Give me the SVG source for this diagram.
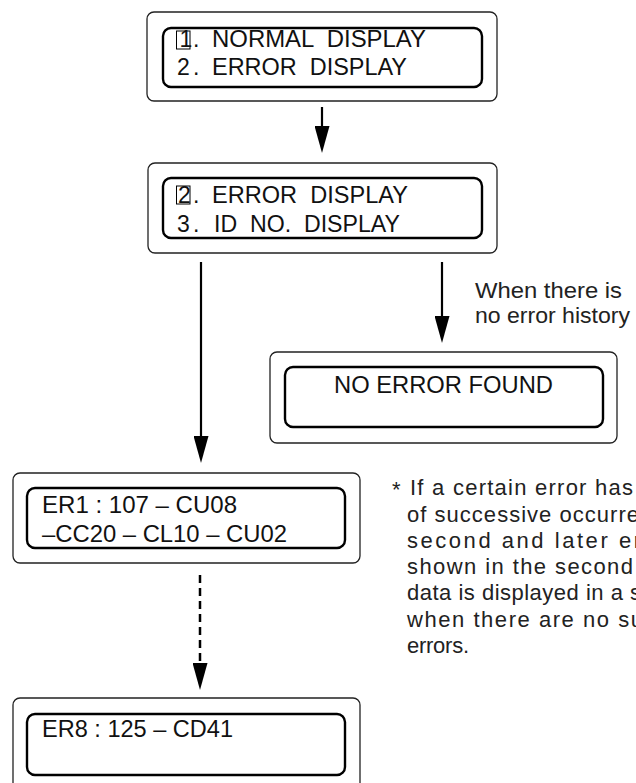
<svg xmlns="http://www.w3.org/2000/svg" width="636" height="783" viewBox="0 0 636 783">
<style>
.outer{fill:#fff;stroke:#222;stroke-width:1.3}
.inner{fill:none;stroke:#000;stroke-width:2.4}
.t{font-family:"Liberation Sans",Arial,sans-serif;font-size:23px;fill:#111}
.n{font-family:"Liberation Sans",Arial,sans-serif;font-size:22px;fill:#222}
.cur{fill:none;stroke:#000;stroke-width:1}
.sh{stroke:#000;stroke-width:2.2;fill:none}
.dash{stroke-dasharray:8 5;stroke-width:2.5}
.pre{white-space:pre}
</style>
<defs>
<marker id="ah" markerUnits="userSpaceOnUse" viewBox="0 0 27 15" markerWidth="27" markerHeight="15" refX="19" refY="7.5" orient="auto">
<path d="M0,0 L27,7.5 L0,15 Z" fill="#000"/>
</marker>
</defs>
<rect width="636" height="783" fill="#fff"/>

<g id="menu1">
<rect class="outer" x="147" y="12" width="350" height="89" rx="7"/>
<rect class="inner" x="163" y="28" width="319" height="59" rx="8"/>
<rect class="cur" x="176.5" y="31" width="13.5" height="18"/>
<text class="t pre" y="47"><tspan x="179.5">1</tspan><tspan x="193">. </tspan><tspan x="212" textLength="214" lengthAdjust="spacingAndGlyphs">NORMAL  DISPLAY</tspan></text>
<text class="t pre" y="75"><tspan x="177">2</tspan><tspan x="193">. </tspan><tspan x="212" textLength="195" lengthAdjust="spacingAndGlyphs">ERROR  DISPLAY</tspan></text>
</g>

<g id="menu2">
<rect class="outer" x="148" y="163" width="349" height="90" rx="7"/>
<rect class="inner" x="163" y="178" width="319" height="60" rx="8"/>
<rect class="cur" x="176.5" y="186" width="13.5" height="18"/>
<text class="t pre" y="203"><tspan x="178">2</tspan><tspan x="193">. </tspan><tspan x="212" textLength="196" lengthAdjust="spacingAndGlyphs">ERROR  DISPLAY</tspan></text>
<text class="t pre" y="232"><tspan x="177">3</tspan><tspan x="193">. </tspan><tspan x="214" textLength="186" lengthAdjust="spacingAndGlyphs">ID  NO.  DISPLAY</tspan></text>
</g>

<g id="noerror">
<rect class="outer" x="270" y="352" width="347" height="91" rx="7"/>
<rect class="inner" x="285" y="367" width="318" height="60" rx="8"/>
<text class="t" x="334" y="393" textLength="219" lengthAdjust="spacingAndGlyphs">NO ERROR FOUND</text>
</g>

<g id="er1">
<rect class="outer" x="13" y="473" width="347" height="90" rx="7"/>
<rect class="inner" x="27" y="488" width="318" height="60" rx="8"/>
<text class="t" x="42" y="513" textLength="195" lengthAdjust="spacingAndGlyphs">ER1 : 107 – CU08</text>
<text class="t" x="42" y="542" textLength="245" lengthAdjust="spacingAndGlyphs">–CC20 – CL10 – CU02</text>
</g>

<g id="er8">
<rect class="outer" x="13" y="698" width="347" height="95" rx="7"/>
<rect class="inner" x="27" y="714" width="318" height="61" rx="8"/>
<text class="t" x="42" y="737" textLength="191" lengthAdjust="spacingAndGlyphs">ER8 : 125 – CD41</text>
</g>

<g id="connectors">
<line class="sh" x1="322" y1="107" x2="322" y2="145" marker-end="url(#ah)"/>
<line class="sh" x1="201" y1="262" x2="201" y2="455" marker-end="url(#ah)"/>
<line class="sh" x1="442" y1="262" x2="442" y2="335" marker-end="url(#ah)"/>
<line class="sh dash" x1="200" y1="575" x2="200" y2="682" marker-end="url(#ah)"/>
<text class="n" x="475" y="298" font-size="22.5" textLength="147" lengthAdjust="spacingAndGlyphs">When there is</text>
<text class="n" x="475" y="323" font-size="22.5" textLength="155" lengthAdjust="spacingAndGlyphs">no error history</text>
</g>

<g id="note">
<text class="n" x="392" y="497" font-size="18">*</text>
<text class="n" x="410" y="495" textLength="223">If a certain error has</text>
<text class="n" x="407" y="522" textLength="232">of successive occurre</text>
<text class="n" x="407" y="548" textLength="234">second and later er</text>
<text class="n" x="407" y="574" textLength="226">shown in the second</text>
<text class="n" x="407" y="600" textLength="234">data is displayed in a s</text>
<text class="n" x="407" y="627" textLength="236">when there are no su</text>
<text class="n" x="407" y="653" textLength="62">errors.</text>
</g>
</svg>
